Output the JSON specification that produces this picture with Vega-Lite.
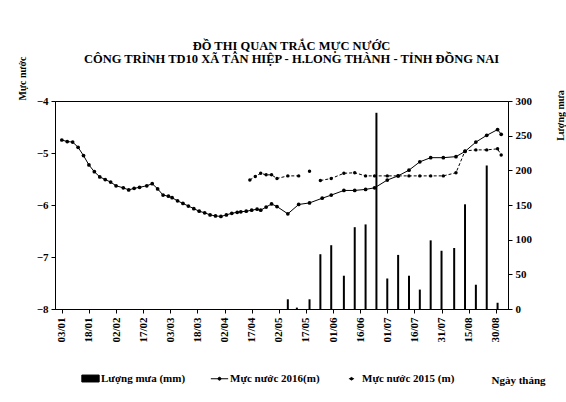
{
  "$schema": "https://vega.github.io/schema/vega-lite/v6.json",
  "width": 453,
  "height": 208,
  "autosize": {"type": "none"},
  "padding": {"left": 55, "top": 101, "right": 58, "bottom": 93},
  "background": "white",
  "config": {
    "font": "Liberation Serif",
    "view": {"stroke": "black", "strokeWidth": 1},
    "axis": {"grid": false, "domainColor": "black", "tickColor": "black", "labelColor": "black", "titleColor": "black", "labelFont": "Liberation Serif", "titleFont": "Liberation Serif", "labelFontWeight": "bold", "titleFontWeight": "bold"}
  },
  "title": {
    "text": ["ĐỒ THỊ QUAN TRẮC MỰC NƯỚC", "CÔNG TRÌNH TD10 XÃ TÂN HIỆP - H.LONG THÀNH - TỈNH ĐỒNG NAI"],
    "font": "Liberation Serif",
    "fontSize": 12.5,
    "fontWeight": "bold",
    "color": "black",
    "lineHeight": 13,
    "anchor": "middle",
    "frame": "group",
    "offset": -9,
    "dx": 10
  },
  "datasets": {
    "rain": [
      {"date": "2016-05-07", "rain": 14},
      {"date": "2016-05-12", "rain": 2},
      {"date": "2016-05-19", "rain": 14},
      {"date": "2016-05-25", "rain": 79},
      {"date": "2016-05-31", "rain": 92},
      {"date": "2016-06-07", "rain": 48},
      {"date": "2016-06-13", "rain": 118},
      {"date": "2016-06-19", "rain": 122},
      {"date": "2016-06-25", "rain": 283},
      {"date": "2016-07-01", "rain": 44},
      {"date": "2016-07-07", "rain": 78},
      {"date": "2016-07-13", "rain": 48},
      {"date": "2016-07-19", "rain": 28},
      {"date": "2016-07-25", "rain": 99},
      {"date": "2016-07-31", "rain": 84},
      {"date": "2016-08-07", "rain": 88},
      {"date": "2016-08-13", "rain": 151},
      {"date": "2016-08-19", "rain": 35},
      {"date": "2016-08-25", "rain": 207},
      {"date": "2016-08-31", "rain": 9}
    ],
    "l2016": [
      {"date": "2016-01-03", "level": -4.75},
      {"date": "2016-01-06", "level": -4.78},
      {"date": "2016-01-09", "level": -4.79},
      {"date": "2016-01-12", "level": -4.89},
      {"date": "2016-01-15", "level": -5.05},
      {"date": "2016-01-18", "level": -5.23},
      {"date": "2016-01-21", "level": -5.36},
      {"date": "2016-01-24", "level": -5.46},
      {"date": "2016-01-27", "level": -5.51},
      {"date": "2016-01-30", "level": -5.56},
      {"date": "2016-02-02", "level": -5.63},
      {"date": "2016-02-06", "level": -5.67},
      {"date": "2016-02-09", "level": -5.71},
      {"date": "2016-02-12", "level": -5.68},
      {"date": "2016-02-15", "level": -5.66},
      {"date": "2016-02-19", "level": -5.63},
      {"date": "2016-02-22", "level": -5.59},
      {"date": "2016-02-25", "level": -5.69},
      {"date": "2016-02-28", "level": -5.81},
      {"date": "2016-03-02", "level": -5.83},
      {"date": "2016-03-04", "level": -5.86},
      {"date": "2016-03-07", "level": -5.92},
      {"date": "2016-03-10", "level": -5.97},
      {"date": "2016-03-13", "level": -6.02},
      {"date": "2016-03-16", "level": -6.07},
      {"date": "2016-03-19", "level": -6.12},
      {"date": "2016-03-22", "level": -6.15},
      {"date": "2016-03-25", "level": -6.19},
      {"date": "2016-03-28", "level": -6.21},
      {"date": "2016-03-31", "level": -6.22},
      {"date": "2016-04-03", "level": -6.19},
      {"date": "2016-04-06", "level": -6.16},
      {"date": "2016-04-09", "level": -6.14},
      {"date": "2016-04-11", "level": -6.13},
      {"date": "2016-04-14", "level": -6.12},
      {"date": "2016-04-17", "level": -6.10},
      {"date": "2016-04-20", "level": -6.08},
      {"date": "2016-04-22", "level": -6.10},
      {"date": "2016-04-25", "level": -6.04},
      {"date": "2016-04-28", "level": -5.98},
      {"date": "2016-05-01", "level": -6.03},
      {"date": "2016-05-07", "level": -6.17},
      {"date": "2016-05-13", "level": -5.99},
      {"date": "2016-05-19", "level": -5.96},
      {"date": "2016-05-26", "level": -5.87},
      {"date": "2016-05-31", "level": -5.81},
      {"date": "2016-06-07", "level": -5.72},
      {"date": "2016-06-13", "level": -5.72},
      {"date": "2016-06-19", "level": -5.70},
      {"date": "2016-06-24", "level": -5.67},
      {"date": "2016-07-01", "level": -5.52},
      {"date": "2016-07-07", "level": -5.44},
      {"date": "2016-07-13", "level": -5.33},
      {"date": "2016-07-19", "level": -5.17},
      {"date": "2016-07-25", "level": -5.09},
      {"date": "2016-08-01", "level": -5.09},
      {"date": "2016-08-08", "level": -5.07},
      {"date": "2016-08-13", "level": -4.97},
      {"date": "2016-08-19", "level": -4.79},
      {"date": "2016-08-25", "level": -4.66},
      {"date": "2016-08-31", "level": -4.55},
      {"date": "2016-09-02", "level": -4.64}
    ],
    "l2015": [
      {"date": "2016-04-16", "level": -5.52},
      {"date": "2016-04-19", "level": -5.45},
      {"date": "2016-04-22", "level": -5.39},
      {"date": "2016-04-25", "level": -5.42},
      {"date": "2016-04-28", "level": -5.42},
      {"date": "2016-05-01", "level": -5.49},
      {"date": "2016-05-07", "level": -5.44},
      {"date": "2016-05-13", "level": -5.44},
      {"date": "2016-05-16", "level": null},
      {"date": "2016-05-19", "level": -5.35},
      {"date": "2016-05-22", "level": null},
      {"date": "2016-05-25", "level": -5.53},
      {"date": "2016-05-31", "level": -5.49},
      {"date": "2016-06-07", "level": -5.39},
      {"date": "2016-06-13", "level": -5.38},
      {"date": "2016-06-19", "level": -5.44},
      {"date": "2016-06-24", "level": -5.44},
      {"date": "2016-07-01", "level": -5.44},
      {"date": "2016-07-07", "level": -5.44},
      {"date": "2016-07-13", "level": -5.44},
      {"date": "2016-07-19", "level": -5.44},
      {"date": "2016-07-25", "level": -5.44},
      {"date": "2016-08-01", "level": -5.44},
      {"date": "2016-08-08", "level": -5.38},
      {"date": "2016-08-13", "level": -4.96},
      {"date": "2016-08-19", "level": -4.94},
      {"date": "2016-08-25", "level": -4.94},
      {"date": "2016-08-31", "level": -4.92},
      {"date": "2016-09-02", "level": -5.04}
    ]
  },
  "encoding": {
    "x": {
      "field": "date",
      "type": "temporal",
      "scale": {"type": "utc", "domain": [{"year": 2016, "month": 1, "date": 2, "utc": true}, {"year": 2016, "month": 9, "date": 3, "utc": true}]},
      "axis": {
        "values": [
          {"year": 2016, "month": 1, "date": 3, "utc": true},
          {"year": 2016, "month": 1, "date": 18, "utc": true},
          {"year": 2016, "month": 2, "date": 2, "utc": true},
          {"year": 2016, "month": 2, "date": 17, "utc": true},
          {"year": 2016, "month": 3, "date": 3, "utc": true},
          {"year": 2016, "month": 3, "date": 18, "utc": true},
          {"year": 2016, "month": 4, "date": 2, "utc": true},
          {"year": 2016, "month": 4, "date": 17, "utc": true},
          {"year": 2016, "month": 5, "date": 2, "utc": true},
          {"year": 2016, "month": 5, "date": 17, "utc": true},
          {"year": 2016, "month": 6, "date": 1, "utc": true},
          {"year": 2016, "month": 6, "date": 16, "utc": true},
          {"year": 2016, "month": 7, "date": 1, "utc": true},
          {"year": 2016, "month": 7, "date": 16, "utc": true},
          {"year": 2016, "month": 7, "date": 31, "utc": true},
          {"year": 2016, "month": 8, "date": 15, "utc": true},
          {"year": 2016, "month": 8, "date": 30, "utc": true}
        ],
        "format": "%d/%m",
        "labelAngle": -90,
        "labelFontSize": 11,
        "labelPadding": 4,
        "tickSize": 4,
        "labelFlush": false,
        "labelOverlap": false,
        "title": "Ngày tháng",
        "titleFontSize": 11,
        "titleX": 463,
        "titleY": 74,
        "titleAlign": "center",
        "titleBaseline": "alphabetic"
      }
    }
  },
  "layer": [
    {
      "data": {"name": "rain"},
      "mark": {"type": "bar", "width": 2, "color": "black"},
      "encoding": {
        "y": {
          "field": "rain",
          "type": "quantitative",
          "scale": {"domain": [0, 300], "nice": false},
          "axis": {"orient": "right", "values": [0, 50, 100, 150, 200, 250, 300], "labelFontSize": 11, "tickSize": 4, "labelPadding": 3, "title": "Lượng mưa", "titleFontSize": 10, "titleAngle": 270, "titleX": 52, "titleY": 14, "titleAlign": "center", "titleBaseline": "middle"}
        },
        "color": {
          "datum": "Lượng mưa (mm)",
          "scale": {"domain": ["Lượng mưa (mm)", "Mực nước 2016(m)", "Mực nước 2015 (m)"], "range": ["black", "black", "black"]},
          "legend": {
            "orient": "none",
            "legendX": 26,
            "legendY": 268,
            "direction": "horizontal",
            "title": null,
            "labelFont": "Liberation Serif",
            "labelFontWeight": "bold",
            "labelFontSize": 11,
            "labelColor": "black",
            "symbolSize": 300,
            "columnPadding": 22,
            "labelOffset": 1,
            "padding": 0,
            "encode": {
              "symbols": {
                "update": {
                  "shape": {"signal": "datum.index === 0 ? 'M-1,-0.4H1V0.4H-1Z' : datum.index === 1 ? 'M-1,0H1M0.17,0A0.17,0.17 0 1,1 -0.17,0A0.17,0.17 0 1,1 0.17,0' : 'M-0.3,0H0.3M0.15,0A0.15,0.15 0 1,1 -0.15,0A0.15,0.15 0 1,1 0.15,0'"},
                  "fill": {"value": "black"},
                  "stroke": {"value": "black"},
                  "strokeWidth": {"value": 1},
                  "opacity": {"value": 1},
                  "fillOpacity": {"value": 1}
                }
              }
            }
          }
        }
      }
    },
    {
      "encoding": {
        "y": {
          "field": "level",
          "type": "quantitative",
          "scale": {"domain": [-8, -4], "nice": false},
          "axis": {"orient": "left", "values": [-8, -7, -6, -5, -4], "format": "d", "labelFontSize": 11, "tickSize": 4, "labelPadding": 3, "title": "Mực nước", "titleFontSize": 10, "titleAngle": 270, "titleX": -33, "titleY": -23, "titleAlign": "center", "titleBaseline": "middle"}
        }
      },
      "layer": [
        {
          "data": {"name": "l2016"},
          "mark": {"type": "line", "strokeWidth": 1, "point": {"filled": true, "size": 14, "color": "black"}},
          "encoding": {"color": {"datum": "Mực nước 2016(m)"}}
        },
        {
          "data": {"name": "l2015"},
          "mark": {"type": "line", "strokeWidth": 1, "strokeDash": [3, 2], "invalid": "break-paths-show-domains", "point": {"filled": true, "size": 12, "color": "black"}},
          "encoding": {"color": {"datum": "Mực nước 2015 (m)"}}
        }
      ]
    }
  ],
  "resolve": {"scale": {"y": "independent"}}
}
